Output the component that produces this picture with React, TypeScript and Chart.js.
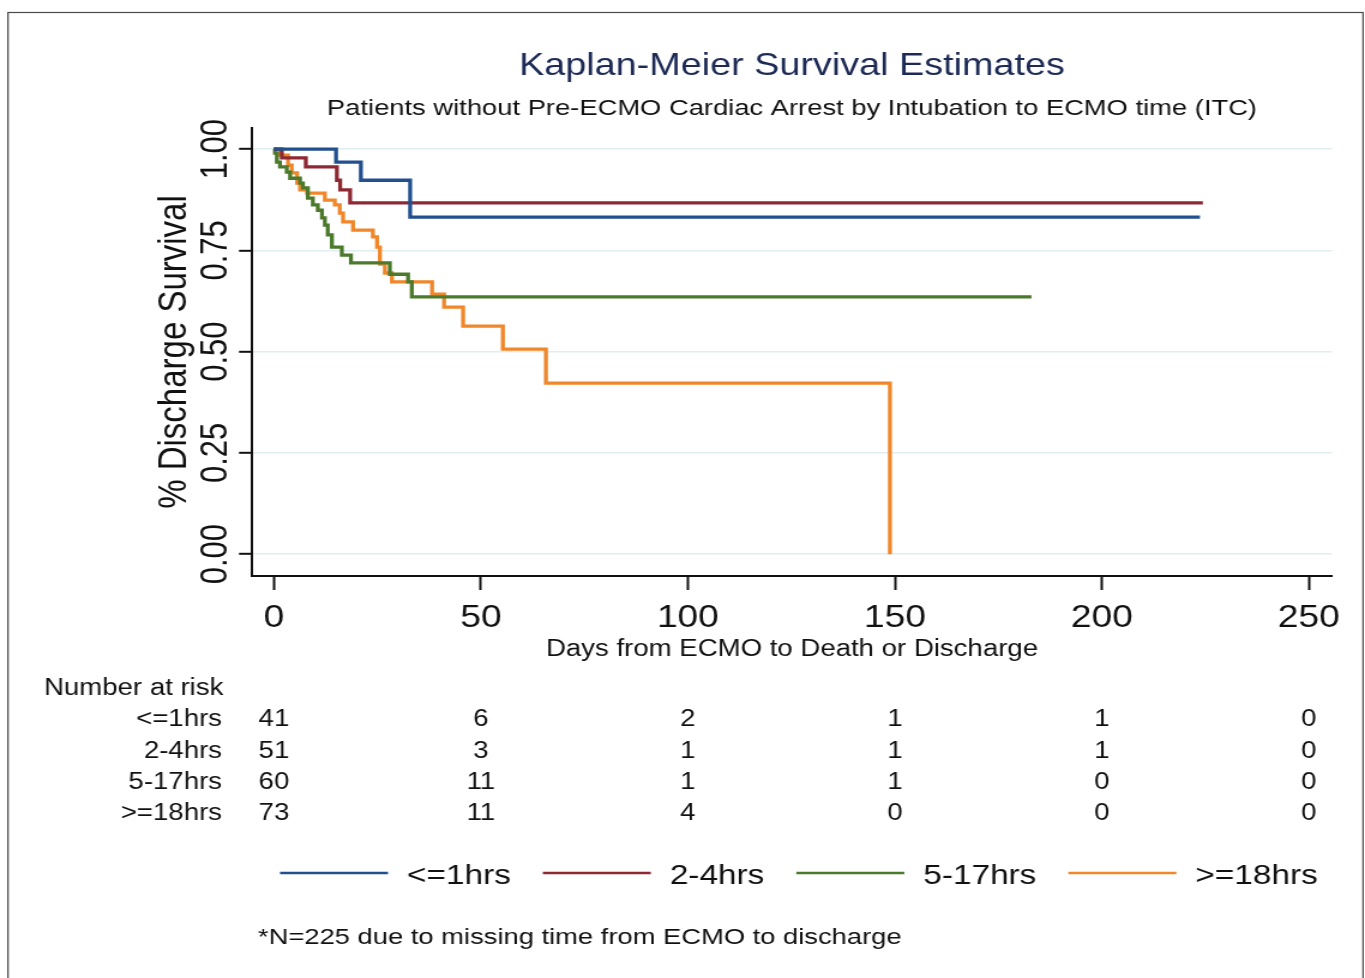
import React, { useEffect, useRef } from "react";
import { Chart, registerables } from "chart.js";

Chart.register(...registerables);

const FONT = '"Liberation Sans", Arial, Helvetica, sans-serif';
// The reference is horizontally stretched (~1.2x); draw on a narrower canvas and stretch with CSS.
const CANVAS_W = 1138;
const CANVAS_H = 978;
const VIEW_W = 1365;
const S = VIEW_W / CANVAS_W;

const titleText = "Kaplan-Meier Survival Estimates";
const subtitleText = "Patients without Pre-ECMO Cardiac Arrest by Intubation to ECMO time (ITC)";
const xTitleText = "Days from ECMO to Death or Discharge";
const yTitleText = "% Discharge Survival";
const footnoteText = "*N=225 due to missing time from ECMO to discharge";
const riskHeader = "Number at risk";

const groups = ["<=1hrs", "2-4hrs", "5-17hrs", ">=18hrs"];
const colors = ["#22508f", "#8e2832", "#4c7a2c", "#f0872a"];

const xTicks = [0, 50, 100, 150, 200, 250];
const yTicks = [0, 0.25, 0.5, 0.75, 1];
const yTickLabels = ["0.00", "0.25", "0.50", "0.75", "1.00"];

// Kaplan-Meier step points (time in days, survival after the event)
const times1 = [0, 15.0, 21.0, 32.9, 223.7];
const surv1 = [1, 0.968, 0.923, 0.832, 0.832];

const times2 = [0, 1.9, 7.7, 15.2, 16.0, 18.4, 224.4];
const surv2 = [1, 0.978, 0.956, 0.923, 0.899, 0.867, 0.867];

const times3 = [0, 0.24, 0.7, 1.45, 3.1, 3.9, 6.3, 7.0, 8.2, 9.4, 10.6, 11.6, 12.3, 13.0, 14.0, 16.4, 18.6, 28.0, 32.4, 33.3, 183];
const surv3 = [1, 0.99, 0.968, 0.956, 0.943, 0.928, 0.916, 0.904, 0.879, 0.862, 0.849, 0.83, 0.812, 0.788, 0.758, 0.738, 0.719, 0.691, 0.672, 0.635, 0.635];

const times4 = [0, 1.45, 3.4, 4.3, 5.6, 6.3, 8.0, 12.3, 14.7, 15.9, 16.7, 19.1, 23.9, 24.9, 25.6, 26.8, 28.5, 38.2, 41.1, 45.7, 55.3, 65.7, 148.8];
const surv4 = [1, 0.985, 0.96, 0.941, 0.916, 0.899, 0.891, 0.874, 0.862, 0.842, 0.82, 0.8, 0.783, 0.758, 0.716, 0.694, 0.672, 0.642, 0.61, 0.563, 0.506, 0.422, 0];

// Number at risk at each x tick
const risk1 = [41, 6, 2, 1, 1, 0];
const risk2 = [51, 3, 1, 1, 1, 0];
const risk3 = [60, 11, 1, 1, 0, 0];
const risk4 = [73, 11, 4, 0, 0, 0];

const seriesTimes = [times1, times2, times3, times4];
const seriesSurv = [surv1, surv2, surv3, surv4];
const riskRows = [risk1, risk2, risk3, risk4];

const overlayPlugin = {
  id: "overlay",
  beforeDraw(chart: any) {
    const ctx = chart.ctx;
    ctx.save();
    ctx.fillStyle = "#ffffff";
    ctx.fillRect(0, 0, chart.width, chart.height);
    ctx.strokeStyle = "#4a4a4a";
    ctx.lineWidth = 1.2;
    ctx.strokeRect(8 / S, 12.5, 1355 / S, 1000);
    ctx.restore();
  },
  afterDraw(chart: any) {
    const { ctx, chartArea, scales } = chart;
    const xs = scales.x;
    const ys = scales.y;
    const cx = (chartArea.left + chartArea.right) / 2;
    ctx.save();

    // Title and subtitle
    ctx.textAlign = "center";
    ctx.textBaseline = "alphabetic";
    ctx.fillStyle = "#1c2a55";
    ctx.font = `31.5px ${FONT}`;
    ctx.fillText(titleText, cx, 75);
    ctx.fillStyle = "#111111";
    ctx.font = `22.8px ${FONT}`;
    ctx.fillText(subtitleText, cx, 115);

    // Rotated y tick labels
    ctx.fillStyle = "#111111";
    ctx.font = `31px ${FONT}`;
    yTicks.forEach((v, i) => {
      const py = ys.getPixelForValue(v);
      ctx.save();
      ctx.translate(chartArea.left - 25 / S, py);
      ctx.rotate(-Math.PI / 2);
      ctx.textAlign = "center";
      ctx.textBaseline = "alphabetic";
      ctx.fillText(yTickLabels[i], 0, 0);
      ctx.restore();
    });

    // Number at risk table
    ctx.font = `23px ${FONT}`;
    ctx.fillStyle = "#111111";
    ctx.textAlign = "left";
    ctx.fillText(riskHeader, 44 / S, 695);
    const rowBase = [726, 758, 789, 820];
    riskRows.forEach((row, r) => {
      ctx.textAlign = "right";
      ctx.fillText(groups[r], 222 / S, rowBase[r]);
      ctx.textAlign = "center";
      row.forEach((n, j) => {
        ctx.fillText(String(n), xs.getPixelForValue(xTicks[j]), rowBase[r]);
      });
    });

    // Legend
    ctx.font = `27.8px ${FONT}`;
    let lx = 280 / S;
    const lineLen = 108 / S;
    groups.forEach((g, i) => {
      ctx.strokeStyle = colors[i];
      ctx.lineWidth = 2.4;
      ctx.beginPath();
      ctx.moveTo(lx, 873);
      ctx.lineTo(lx + lineLen, 873);
      ctx.stroke();
      const tx = lx + lineLen + 19 / S;
      ctx.fillStyle = "#111111";
      ctx.textAlign = "left";
      ctx.fillText(g, tx, 884);
      lx = tx + ctx.measureText(g).width + 32 / S;
    });

    // Footnote
    ctx.font = `22.8px ${FONT}`;
    ctx.textAlign = "left";
    ctx.fillText(footnoteText, 258 / S, 944);

    ctx.restore();
  },
};

export default function App() {
  const canvasRef = useRef<HTMLCanvasElement | null>(null);

  useEffect(() => {
    const canvas = canvasRef.current;
    if (!canvas) return;

    const plotLeft = 252 / S;
    const plotRight = 1332 / S;
    const padLeft = 126.5;
    const xScaleH = 87.5;
    const plotTop = 128;
    const plotBottom = 576;

    const datasets = groups.map((g, i) => ({
      label: g,
      data: seriesTimes[i].map((t, k) => ({ x: t, y: seriesSurv[i][k] })),
      borderColor: colors[i],
      backgroundColor: colors[i],
      borderWidth: 3.3,
      pointRadius: 0,
      stepped: true as const,
      fill: false,
      tension: 0,
    }));

    const chart = new Chart(canvas, {
      type: "line",
      data: { datasets },
      plugins: [overlayPlugin],
      options: {
        responsive: false,
        animation: false,
        devicePixelRatio: 1,
        layout: {
          padding: {
            left: padLeft,
            right: CANVAS_W - plotRight,
            top: plotTop,
            bottom: CANVAS_H - plotBottom - xScaleH,
          },
        },
        plugins: {
          legend: { display: false },
          tooltip: { enabled: false },
          title: { display: false },
        },
        scales: {
          x: {
            type: "linear",
            min: -5.3,
            max: 255.6,
            afterBuildTicks: (axis: any) => {
              axis.ticks = xTicks.map((v) => ({ value: v }));
            },
            afterFit: (axis: any) => {
              axis.height = xScaleH;
            },
            ticks: {
              autoSkip: false,
              maxRotation: 0,
              minRotation: 0,
              padding: 10,
              color: "#111111",
              font: { family: FONT, size: 31 },
              callback: (v: any) => String(v),
            },
            grid: {
              display: true,
              drawOnChartArea: false,
              drawTicks: true,
              tickLength: 14,
              tickColor: "#111111",
              tickWidth: 2,
            },
            border: { display: true, color: "#111111", width: 2 },
            title: {
              display: true,
              text: xTitleText,
              color: "#111111",
              font: { family: FONT, size: 23 },
              padding: 0,
            },
          },
          y: {
            type: "linear",
            min: -0.054,
            max: 1.052,
            afterBuildTicks: (axis: any) => {
              axis.ticks = yTicks.map((v) => ({ value: v }));
            },
            afterFit: (axis: any) => {
              axis.width = plotLeft - padLeft;
            },
            ticks: { display: false },
            grid: {
              display: true,
              color: "#e2edf0",
              lineWidth: 1.6,
              drawTicks: true,
              tickLength: 13 / S,
              tickColor: "#111111",
              tickWidth: 2,
            },
            border: { display: true, color: "#111111", width: 2 },
            title: {
              display: true,
              text: yTitleText,
              color: "#111111",
              font: { family: FONT, size: 33 },
              padding: 0,
            },
          },
        },
      },
    });

    return () => {
      chart.destroy();
    };
  }, []);

  return (
    <div style={{ position: "absolute", left: 0, top: 0, width: VIEW_W, height: CANVAS_H, overflow: "hidden", background: "#fff" }}>
      <canvas
        ref={canvasRef}
        width={CANVAS_W}
        height={CANVAS_H}
        style={{ width: `${VIEW_W}px`, height: `${CANVAS_H}px`, display: "block" }}
      />
    </div>
  );
}
